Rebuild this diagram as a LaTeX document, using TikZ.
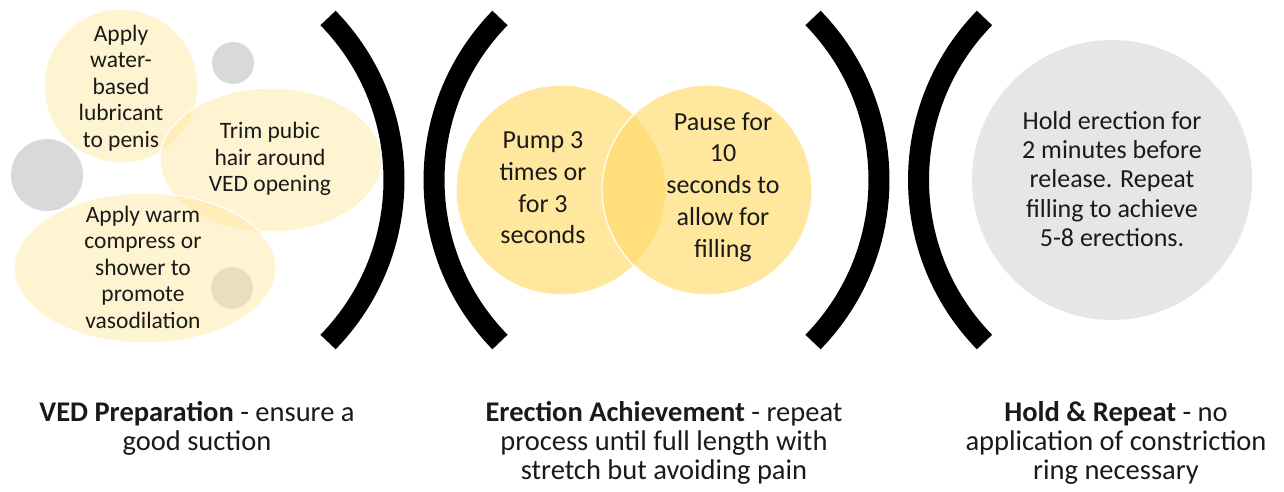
\documentclass[tikz,border=0pt]{standalone}
\usepackage{fontspec}
\setmainfont{Carlito}
\usetikzlibrary{shapes.geometric}
\definecolor{gold}{HTML}{FFE699}
\definecolor{goldm}{HTML}{FFD966}
\definecolor{grayc}{HTML}{D9D9D9}
\definecolor{grayr}{HTML}{E7E6E6}
\definecolor{txt}{HTML}{1A1A1A}
\begin{document}
\begin{tikzpicture}[x=1pt,y=-1pt,
  bracket/.style={line width=21pt, draw=black, line cap=butt},
  pale/.style={fill=gold, fill opacity=0.45, draw=white, line width=1.2pt},
  midc/.style={fill=goldm, fill opacity=0.63, draw=white, line width=1.2pt},
  smallg/.style={fill=grayc},
  bigg/.style={fill=grayr},
  lefttxt/.style={align=center, text=txt, inner sep=0pt, font=\fontsize{23.5}{26.5}\selectfont},
  midtxt/.style={align=center, text=txt, inner sep=0pt, font=\fontsize{26}{31.7}\selectfont},
  graytxt/.style={align=center, text=txt, inner sep=0pt, font=\fontsize{26}{29.2}\selectfont},
  captxt/.style={align=center, text=txt, inner sep=0pt, anchor=north, font=\fontsize{28.5}{29}\selectfont}
]
\useasboundingbox (0,0) rectangle (1284,491);

% left group: small grey circles
\path[smallg] (233,63) circle[radius=21];
\path[smallg] (47,175) circle[radius=36];
\path[smallg] (232,288) circle[radius=21];
% left group: pale yellow shapes
\path[pale] (121,86) circle[radius=77];
\path[pale] (271,160) ellipse[x radius=111, y radius=72];
\path[pale] (145,268) ellipse[x radius=131, y radius=75];

\node[lefttxt] (lube) at (121,88) {Apply\\water-\\based\\lubricant\\to penis};
\node[lefttxt] (trim) at (270,159) {Trim pubic\\hair around\\VED opening};
\node[lefttxt] (warm) at (143,267) {Apply warm\\compress or\\shower to\\promote\\vasodilation};

% middle Venn
\path[midc] (561,190) circle[radius=105];
\path[midc] (707,190) circle[radius=105];
\node[midtxt] (pump) at (543,188) {Pump 3\\times or\\for 3\\seconds};
\node[midtxt] (pause) at (723,187) {Pause for\\10\\seconds to\\allow for\\filling};

% right grey circle
\path[bigg] (1112,180) circle[radius=140];
\node[graytxt] (hold) at (1112,179) {Hold erection for\\2 minutes before\\release. Repeat\\filling to achieve\\5-8 erections.};

% brackets
\coordinate (b1) at (162,180);
\coordinate (b2) at (666,180);
\coordinate (b3) at (647,180);
\coordinate (b4) at (1150.5,180);
\draw[bracket] (b1) ++(-44.3:232) arc[start angle=-44.3, end angle=44.3, radius=232];
\draw[bracket] (b2) ++(224.3:232) arc[start angle=224.3, end angle=135.7, radius=232];
\draw[bracket] (b3) ++(-44.3:232) arc[start angle=-44.3, end angle=44.3, radius=232];
\draw[bracket] (b4) ++(224.3:232) arc[start angle=224.3, end angle=135.7, radius=232];

% captions
\node[captxt] (cap1) at (197,401) {\textbf{VED Preparation} - ensure a\\good suction};
\node[captxt] (cap2) at (664,401) {\textbf{Erection Achievement} - repeat\\process until full length with\\stretch but avoiding pain};
\node[captxt] (cap3) at (1116,401) {\textbf{Hold \& Repeat} - no\\application of constriction\\ring necessary};
\end{tikzpicture}
\end{document}
